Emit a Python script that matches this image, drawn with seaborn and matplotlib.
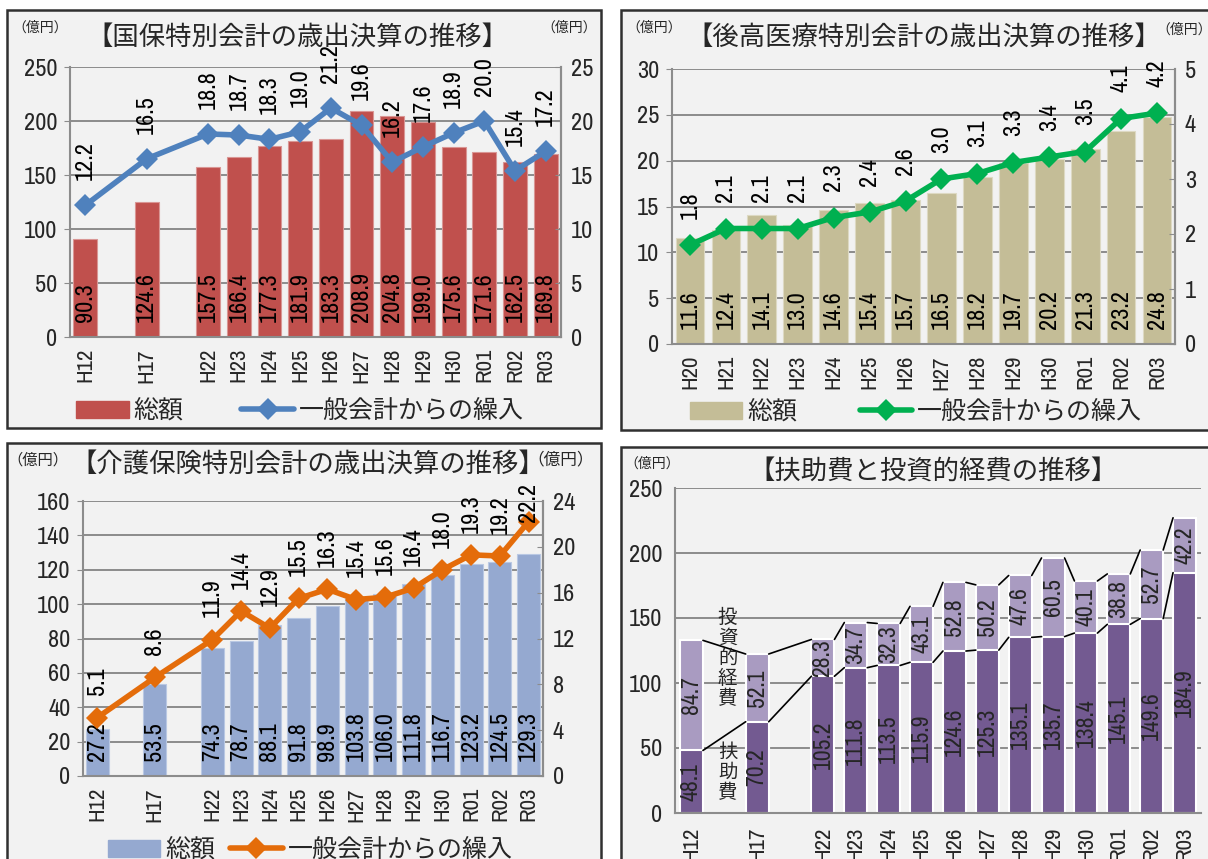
import matplotlib
matplotlib.use('Agg')
import matplotlib.pyplot as plt
import seaborn as sns
from matplotlib.patches import Rectangle, Patch
from matplotlib.lines import Line2D

sns.set_style('white')
plt.rcParams['font.family'] = ['Archivo Narrow', 'Liberation Sans', 'Noto Sans CJK JP', 'DejaVu Sans']
JP = ['Noto Sans CJK JP', 'DejaVu Sans']

# categories
years_a = ['H12', 'H17', 'H22', 'H23', 'H24', 'H25', 'H26', 'H27', 'H28', 'H29', 'H30', 'R01', 'R02', 'R03']
order_a = [years_a[0], ' ', years_a[1], '  '] + years_a[2:]
years_b = ['H20', 'H21', 'H22', 'H23', 'H24', 'H25', 'H26', 'H27', 'H28', 'H29', 'H30', 'R01', 'R02', 'R03']

# 国保
kokuho_total = [90.3, 124.6, 157.5, 166.4, 177.3, 181.9, 183.3, 208.9, 204.8, 199.0, 175.6, 171.6, 162.5, 169.8]
kokuho_ippan = [12.2, 16.5, 18.8, 18.7, 18.3, 19.0, 21.2, 19.6, 16.2, 17.6, 18.9, 20.0, 15.4, 17.2]
# 後期高齢者医療
kouki_total = [11.6, 12.4, 14.1, 13.0, 14.6, 15.4, 15.7, 16.5, 18.2, 19.7, 20.2, 21.3, 23.2, 24.8]
kouki_ippan = [1.8, 2.1, 2.1, 2.1, 2.3, 2.4, 2.6, 3.0, 3.1, 3.3, 3.4, 3.5, 4.1, 4.2]
# 介護保険
kaigo_total = [27.2, 53.5, 74.3, 78.7, 88.1, 91.8, 98.9, 103.8, 106.0, 111.8, 116.7, 123.2, 124.5, 129.3]
kaigo_ippan = [5.1, 8.6, 11.9, 14.4, 12.9, 15.5, 16.3, 15.4, 15.6, 16.4, 18.0, 19.3, 19.2, 22.2]
# 扶助費・投資的経費
fujo = [48.1, 70.2, 105.2, 111.8, 113.5, 115.9, 124.6, 125.3, 135.1, 135.7, 138.4, 145.1, 149.6, 184.9]
toushi = [84.7, 52.1, 28.3, 34.7, 32.3, 43.1, 52.8, 50.2, 47.6, 60.5, 40.1, 38.8, 52.7, 42.2]

W, H = 1208, 859
GRID = '#8c8c8c'
BG = '#f2f2f2'
NUM = 17.5
TICK = 17.5
XTICK = 16.5

fig = plt.figure(figsize=(W / 100, H / 100), dpi=100)


def frac_rect(x0, y0, x1, y1):
    return [x0 / W, 1 - y1 / H, (x1 - x0) / W, (y1 - y0) / H]


def ftext(x, y, s, size, **kw):
    fig.text(x / W, 1 - y / H, s, fontsize=size, family=JP, ha='center', va='center', **kw)


def box(x0, y0, x1, y1):
    r = Rectangle((x0 / W, 1 - y1 / H), (x1 - x0) / W, (y1 - y0) / H, transform=fig.transFigure,
                  fc=BG, ec='#303030', lw=1.8, zorder=-5)
    fig.add_artist(r)


def base_axes(rect, order, ymax, ystep, xpad=8):
    ax = fig.add_axes(rect)
    ax.set_facecolor(BG)
    ax.set_xlim(-0.5, len(order) - 0.5)
    ax.set_ylim(0, ymax)
    ax.set_yticks(range(0, ymax + 1, ystep))
    ax.yaxis.grid(True, color=GRID, lw=1.4)
    ax.set_axisbelow(True)
    ax.tick_params(axis='y', length=4, color=GRID, labelsize=TICK, pad=5)
    ax.set_xticks(range(len(order)))
    ax.set_xticklabels(order)
    ax.tick_params(axis='x', which='major', length=0, labelsize=XTICK, rotation=90, pad=xpad)
    ax.set_xticks([i + 0.5 for i in range(len(order) - 1)], minor=True)
    ax.tick_params(axis='x', which='minor', direction='in', length=5, color=GRID, width=1.2)
    for s in ['left', 'bottom', 'right']:
        ax.spines[s].set_color(GRID)
        ax.spines[s].set_linewidth(1.5)
    ax.spines['top'].set_visible(False)
    return ax


def combo(rect, cats, order, totals, transfers, bar_color, edge, line_color,
          ymax, ystep, rmax, rstep, width, legend_xy, colspace, line_off, special=None):
    special = special or {}
    ax = base_axes(rect, order, ymax, ystep)
    pos = [order.index(c) for c in cats]
    sns.barplot(x=cats, y=totals, order=order, color=bar_color, saturation=1, width=width,
                errorbar=None, edgecolor=edge, linewidth=0.8, ax=ax)
    ax.set_xlim(-0.5, len(order) - 0.5)
    ax.set_xlabel('')
    ax.set_ylabel('')
    for p, v in zip(pos, totals):
        ax.annotate(f'{v:.1f}', (p, 0), xytext=(0, 11), textcoords='offset points',
                    rotation=90, ha='center', va='bottom', fontsize=NUM, color='black')
    ax2 = ax.twinx()
    sns.lineplot(x=pos, y=transfers, ax=ax2, color=line_color, lw=4, marker='D',
                 markersize=11, markeredgewidth=0)
    ax2.set_ylim(0, rmax)
    ax2.set_yticks(range(0, rmax + 1, rstep))
    ax2.tick_params(axis='y', direction='in', length=4, color=GRID, labelsize=TICK, pad=7)
    ax2.grid(False)
    for s in ['left', 'bottom', 'top']:
        ax2.spines[s].set_visible(False)
    ax2.spines['right'].set_color(GRID)
    ax2.spines['right'].set_linewidth(1.5)
    ax2.set_ylabel('')
    ax.set_xlim(-0.5, len(order) - 0.5)
    for i, (p, v) in enumerate(zip(pos, transfers)):
        off = special.get(i, line_off)
        ax2.annotate(f'{v:.1f}', (p, v), xytext=(0, off), textcoords='offset points',
                     rotation=90, ha='center', va='bottom', fontsize=NUM, color='black')
    handles = [Patch(color=bar_color),
               Line2D([], [], color=line_color, lw=4, marker='D', markersize=11, markeredgewidth=0)]
    fig.legend(handles, ['総額', '一般会計からの繰入'], loc='center',
               bbox_to_anchor=(legend_xy[0] / W, 1 - legend_xy[1] / H), ncol=2, frameon=False,
               prop={'family': JP, 'size': 18}, handlelength=2.1, handletextpad=0.2,
               columnspacing=colspace, borderpad=0)
    return ax


# frames
box(7, 10, 601, 428)
box(621, 10, 1230, 430)
box(7, 443, 601, 880)
box(621, 447, 1230, 880)

# panel 1
combo(frac_rect(70, 67, 561, 337), years_a, order_a, kokuho_total, kokuho_ippan,
      '#c0504d', '#d99694', '#4f81bd', 250, 50, 25, 5, 0.78, (300, 411), 2.3, 18)
ftext(297, 37, '【国保特別会計の歳出決算の推移】', 19)
ftext(40, 28, '（億円）', 10)
ftext(569, 28, '（億円）', 10)

# panel 2
combo(frac_rect(672, 69, 1175, 344), years_b, years_b, kouki_total, kouki_ippan,
      '#c4bd97', '#ddd9c3', '#00b050', 30, 5, 5, 1, 0.8, (916, 412), 2.5, 19)
ftext(924, 37, '【後高医療特別会計の歳出決算の推移】', 19)
ftext(654, 28, '（億円）', 10)
ftext(1184, 30, '（億円）', 10)

# panel 3
combo(frac_rect(83, 501, 543, 776), years_a, order_a, kaigo_total, kaigo_ippan,
      '#95a9d0', '#b9c8e3', '#e46c0a', 160, 20, 24, 4, 0.8, (310, 850), 0.6, 16,
      special={len(years_a) - 1: 0})
ftext(308, 464, '【介護保険特別会計の歳出決算の推移】', 19)
ftext(38, 460, '（億円）', 11)
ftext(561, 460, '（億円）', 12)

# panel 4
ax4 = base_axes(frac_rect(675, 488, 1201, 813), order_a, 250, 50, xpad=10)
ax4.spines['right'].set_visible(False)
pos = [order_a.index(c) for c in years_a]
totals4 = [a + b for a, b in zip(fujo, toushi)]
sns.barplot(x=years_a, y=totals4, order=order_a, color='#a99bc1', saturation=1, width=0.7,
            errorbar=None, edgecolor='white', linewidth=1.5, ax=ax4)
sns.barplot(x=years_a, y=fujo, order=order_a, color='#735a91', saturation=1, width=0.7,
            errorbar=None, edgecolor='white', linewidth=1.5, ax=ax4)
ax4.set_xlim(-0.5, len(order_a) - 0.5)
ax4.set_xlabel('')
ax4.set_ylabel('')
for i in range(len(years_a) - 1):
    x0, x1 = pos[i] + 0.35, pos[i + 1] - 0.35
    ax4.plot([x0, x1], [fujo[i], fujo[i + 1]], color='black', lw=1.2)
    ax4.plot([x0, x1], [totals4[i], totals4[i + 1]], color='black', lw=1.2)
for p, a, b in zip(pos, fujo, toushi):
    ax4.text(p, a / 2, f'{a:.1f}', rotation=90, ha='center', va='center', fontsize=NUM - 0.5)
    ax4.text(p, a + b / 2, f'{b:.1f}', rotation=90, ha='center', va='center', fontsize=NUM - 0.5)
ax4.text(1.1, 119, '\n'.join('投資的経費'), ha='center', va='center', fontsize=14,
         family=JP, linespacing=0.95)
ax4.text(1.1, 31, '\n'.join('扶助費'), ha='center', va='center', fontsize=14,
         family=JP, linespacing=0.95)
ftext(933, 471, '【扶助費と投資的経費の推移】', 19)
ftext(652, 464, '（億円）', 10)

fig.savefig('out.png', dpi=100)
